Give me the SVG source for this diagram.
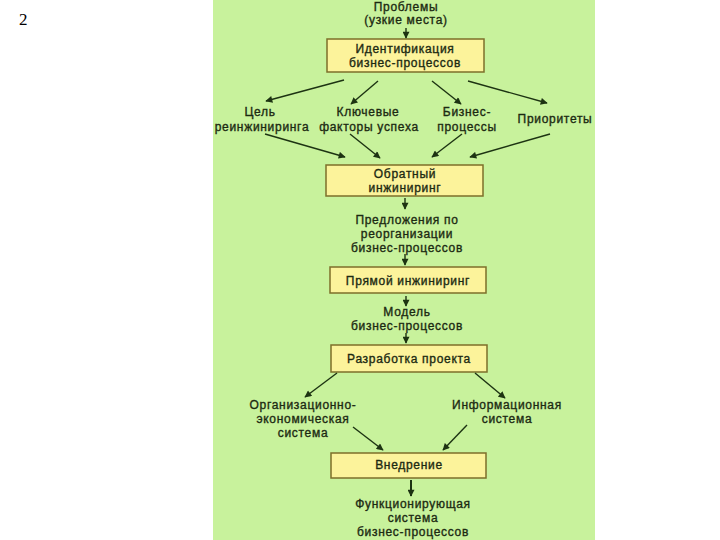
<svg xmlns="http://www.w3.org/2000/svg" width="720" height="540" viewBox="0 0 720 540">
<defs>
<marker id="ah" viewBox="0 0 10 10" refX="9" refY="5" markerWidth="8" markerHeight="7" markerUnits="userSpaceOnUse" orient="auto">
<path d="M0,0 L10,5 L0,10 z" fill="#1d3312"/>
</marker>
</defs>
<style>
.t{font-family:"Liberation Sans",Arial,sans-serif;font-size:12px;fill:#1c2a12;text-anchor:middle;letter-spacing:0.7px;stroke:#1c2a12;stroke-width:0.35}
.box{fill:#fcf39b;stroke:#7d6f2a;stroke-width:1.5}
.c line{stroke:#1d3312;stroke-width:1.4;marker-end:url(#ah)}
</style>
<rect x="0" y="0" width="720" height="540" fill="#ffffff"/>
<text x="19" y="25" font-family="Liberation Serif,serif" font-size="17" fill="#000">2</text>
<rect x="213" y="0" width="382" height="540" fill="#c8f29c"/>

<g id="problems"><text class="t" x="406" y="11">Проблемы</text><text class="t" x="406" y="24">(узкие места)</text></g>
<g id="ident"><rect class="box" x="327" y="39" width="157" height="33"/><text class="t" x="405" y="53">Идентификация</text><text class="t" x="405" y="67">бизнес-процессов</text></g>
<g id="goal"><text class="t" x="260" y="116">Цель</text><text class="t" x="262" y="131">реинжиниринга</text></g>
<g id="factors"><text class="t" x="368" y="116">Ключевые</text><text class="t" x="369" y="131">факторы успеха</text></g>
<g id="bp"><text class="t" x="467" y="116">Бизнес-</text><text class="t" x="467" y="131">процессы</text></g>
<g id="prio"><text class="t" x="555" y="123">Приоритеты</text></g>
<g id="reverse"><rect class="box" x="326" y="165" width="157" height="31"/><text class="t" x="405" y="178">Обратный</text><text class="t" x="405" y="192">инжиниринг</text></g>
<g id="proposals"><text class="t" x="407" y="224">Предложения по</text><text class="t" x="407" y="238">реорганизации</text><text class="t" x="407" y="252">бизнес-процессов</text></g>
<g id="direct"><rect class="box" x="330" y="267" width="156" height="26"/><text class="t" x="408" y="285">Прямой инжиниринг</text></g>
<g id="model"><text class="t" x="407" y="316">Модель</text><text class="t" x="407" y="330">бизнес-процессов</text></g>
<g id="design"><rect class="box" x="331" y="345" width="156" height="27"/><text class="t" x="409" y="363">Разработка проекта</text></g>
<g id="orgsys"><text class="t" x="303" y="409">Организационно-</text><text class="t" x="303" y="423">экономическая</text><text class="t" x="303" y="437">система</text></g>
<g id="infosys"><text class="t" x="507" y="409">Информационная</text><text class="t" x="507" y="423">система</text></g>
<g id="impl"><rect class="box" x="331" y="453" width="155" height="25"/><text class="t" x="409" y="469">Внедрение</text></g>
<g id="result"><text class="t" x="413" y="508">Функционирующая</text><text class="t" x="413" y="522">система</text><text class="t" x="413" y="536">бизнес-процессов</text></g>

<g class="c" id="connectors">
<line x1="406" y1="28" x2="406" y2="38"/>
<line x1="344" y1="80" x2="266" y2="101"/>
<line x1="378" y1="81" x2="351" y2="104"/>
<line x1="432" y1="81" x2="461" y2="104"/>
<line x1="468" y1="81" x2="547" y2="103"/>
<line x1="265" y1="134" x2="345" y2="157"/>
<line x1="350" y1="134" x2="380" y2="158"/>
<line x1="462" y1="134" x2="432" y2="157"/>
<line x1="550" y1="134" x2="470" y2="157"/>
<line x1="405" y1="198" x2="405" y2="209"/>
<line x1="405" y1="254" x2="405" y2="265"/>
<line x1="406" y1="296" x2="406" y2="306"/>
<line x1="406" y1="333" x2="406" y2="343"/>
<line x1="337" y1="373" x2="305" y2="397"/>
<line x1="475" y1="373" x2="505" y2="398"/>
<line x1="353" y1="427" x2="383" y2="450"/>
<line x1="467" y1="425" x2="443" y2="450"/>
<line x1="411" y1="480" x2="411" y2="496" style="stroke-width:2"/>
</g>
</svg>
